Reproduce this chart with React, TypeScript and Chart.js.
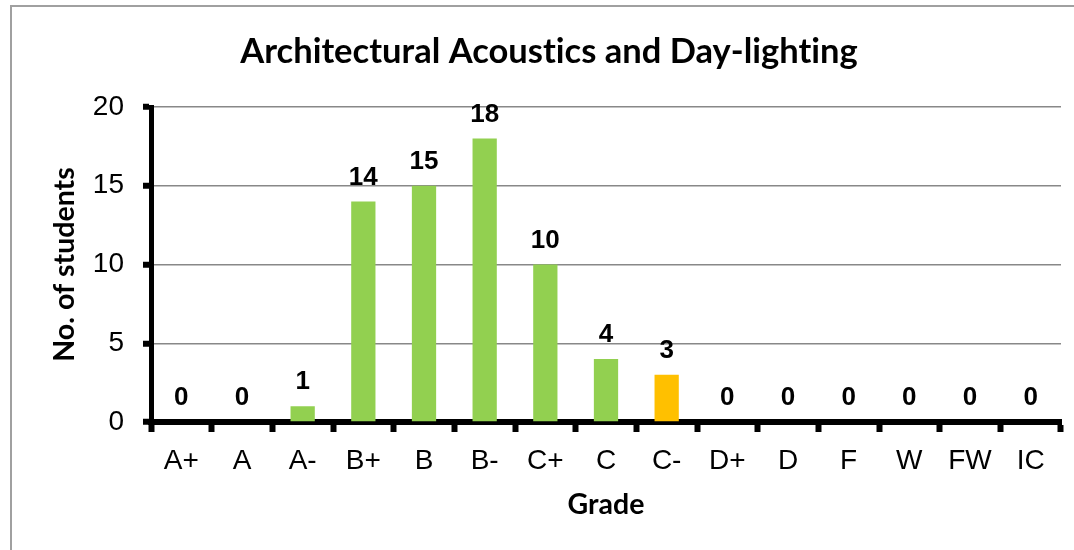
import React, { useEffect, useRef } from "react";
import { Chart, registerables } from "chart.js";

Chart.register(...registerables);

const TITLE = "Architectural Acoustics and Day-lighting";
const X_TITLE = "Grade";
const Y_TITLE = "No. of students";
const grades = ["A+", "A", "A-", "B+", "B", "B-", "C+", "C", "C-", "D+", "D", "F", "W", "FW", "IC"];
const students = [0, 0, 1, 14, 15, 18, 10, 4, 3, 0, 0, 0, 0, 0, 0];
const barColors = grades.map((g) => (g === "C-" ? "#FFC000" : "#92D050"));
const yTicks = [0, 5, 10, 15, 20];

const framePlugin = {
  id: "frame",
  beforeDraw(chart: any) {
    const { ctx, width, height } = chart;
    ctx.save();
    ctx.fillStyle = "#ffffff";
    ctx.fillRect(0, 0, width, height);
    ctx.strokeStyle = "#a0a0a0";
    ctx.lineWidth = 2;
    ctx.strokeRect(11, 6, width + 20, height + 20);
    ctx.restore();
  },
};

const titlePlugin = {
  id: "customTitle",
  afterDraw(chart: any) {
    const { ctx } = chart;
    ctx.save();
    ctx.fillStyle = "#000";
    ctx.font = "bold 34.5px Lato";
    ctx.textAlign = "center";
    ctx.textBaseline = "alphabetic";
    try {
      (ctx as any).textRendering = "optimizeSpeed";
      (ctx as any).letterSpacing = "0.01px";
    } catch (e) {}
    ctx.fillText(TITLE, 549, 63);
    ctx.restore();
  },
};

const labelPlugin = {
  id: "valueLabels",
  afterDatasetsDraw(chart: any) {
    const { ctx } = chart;
    const meta = chart.getDatasetMeta(0);
    ctx.save();
    ctx.fillStyle = "#000";
    ctx.font = "bold 26px 'Liberation Sans', Arial";
    ctx.textAlign = "center";
    ctx.textBaseline = "alphabetic";
    meta.data.forEach((el: any, i: number) => {
      ctx.fillText(String(students[i]), el.x, el.y - 17);
    });
    ctx.restore();
  },
};

export default function App() {
  const ref = useRef<HTMLCanvasElement | null>(null);
  useEffect(() => {
    document.body.style.margin = "0";
    const canvas = ref.current;
    if (!canvas) return;
    const chart = new Chart(canvas, {
      type: "bar",
      data: {
        labels: grades,
        datasets: [
          {
            data: students,
            backgroundColor: barColors,
            borderWidth: 0,
            categoryPercentage: 1,
            barPercentage: 0.4,
          },
        ],
      },
      options: {
        responsive: false,
        animation: false,
        layout: { padding: { left: 10, right: 13, top: 107, bottom: 0 } },
        plugins: {
          legend: { display: false },
          tooltip: { enabled: false },
          title: { display: false },
        },
        scales: {
          x: {
            type: "category",
            offset: true,
            afterFit(scale: any) {
              scale.height = 128;
            },
            grid: {
              drawOnChartArea: false,
              drawTicks: true,
              tickLength: 10,
              tickWidth: 6,
              tickColor: "#000",
              offset: true,
            },
            border: { display: true, color: "#000", width: 6 },
            ticks: {
              color: "#000",
              padding: 12,
              font: { family: "'Liberation Sans', Arial", size: 28 },
              maxRotation: 0,
              autoSkip: false,
            },
            title: {
              display: true,
              text: X_TITLE,
              color: "#000",
              font: { family: "Lato", size: 28.5, weight: "bold" },
              padding: { top: 0, bottom: 28 },
            },
          },
          y: {
            min: 0,
            max: 20,
            afterFit(scale: any) {
              scale.width = 141;
            },
            afterBuildTicks(scale: any) {
              scale.ticks = yTicks.map((v) => ({ value: v }));
            },
            grid: {
              color: "#888888",
              lineWidth: 1.5,
              tickLength: 8,
              tickWidth: 6,
              tickColor: "#000",
            },
            border: { display: true, color: "#000", width: 5 },
            ticks: {
              color: "#000",
              padding: 19,
              font: { family: "'Liberation Sans', Arial", size: 28 },
            },
            title: {
              display: true,
              text: Y_TITLE,
              color: "#000",
              font: { family: "Lato", size: 28.5, weight: "bold" },
              padding: { top: 38, bottom: 0 },
            },
          },
        },
      },
      plugins: [framePlugin, titlePlugin, labelPlugin],
    });
    return () => chart.destroy();
  }, []);
  return (
    <div style={{ width: 1074, height: 550 }}>
      <canvas ref={ref} width={1074} height={550} style={{ display: "block" }} />
    </div>
  );
}
